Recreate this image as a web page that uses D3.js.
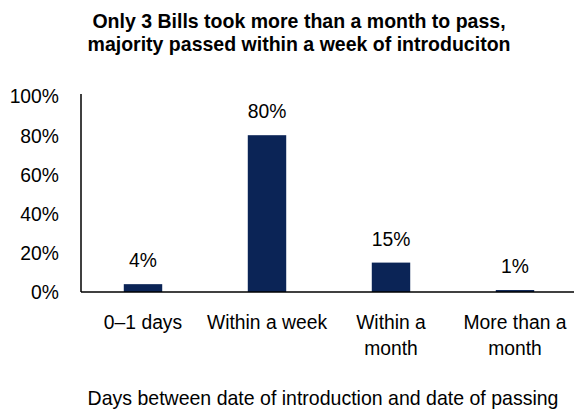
<!DOCTYPE html>
<html>
<head>
<meta charset="utf-8">
<script src="https://cdn.jsdelivr.net/npm/d3@7"></script>
<style>
  body { margin: 0; background: #fff; }
  text { font-family: "Liberation Sans Narrow", "Arial Narrow", "Liberation Sans", Arial, sans-serif; fill: #000; }
</style>
</head>
<body>
<div id="chart"></div>
<script>
// bill passing times
var categories = [["0\u20131 days"], ["Within a week"], ["Within a", "month"], ["More than a", "month"]];
var shares = [4, 80, 15, 1];
var yTicks = [0, 20, 40, 60, 80, 100];

var width = 574, height = 410;
var sx = 0.92; // squeeze text, no narrow font here

var svg = d3.select("#chart")
	.append("svg")
		.attr("width", width)
		.attr("height", height);

var x = d3.scaleBand()
	.domain(d3.range(categories.length))
	.range([81, 577])
	.paddingInner(0.69)
	.paddingOuter(0.345);

var y = d3.scaleLinear()
	.domain([0, 100])
	.range([292, 96]);

function place(sel, px, py, s) {
	return sel.attr("transform", "translate(" + px + "," + py + ") scale(" + (s || sx) + ",1)");
}

// title
var title = place(svg.append("text"), 299, 28, 0.93)
	.attr("text-anchor", "middle")
	.style("font-weight", "bold")
	.style("font-size", "21px");
title.append("tspan").attr("x", 0).text("Only 3 Bills took more than a month to pass,");
title.append("tspan").attr("x", 0).attr("dy", 23).text("majority passed within a week of introduciton");

// y axis labels
svg.selectAll(".ytick")
	.data(yTicks)
	.enter().append("text")
		.attr("class", "ytick")
		.attr("transform", function(d) { return "translate(59," + y(d) + ") scale(" + sx + ",1)"; })
		.attr("dy", "0.35em")
		.attr("text-anchor", "end")
		.style("font-size", "21px")
		.text(function(d) { return d + "%"; });

// bars
svg.selectAll(".bar")
	.data(shares)
	.enter().append("rect")
		.attr("class", "bar")
		.attr("x", function(d, i) { return x(i); })
		.attr("y", function(d) { return y(d); })
		.attr("width", x.bandwidth())
		.attr("height", function(d) { return y(0) - y(d); })
		.attr("fill", "#0b2456");

svg.selectAll(".val")
	.data(shares)
	.enter().append("text")
		.attr("class", "val")
		.attr("transform", function(d, i) {
			return "translate(" + (x(i) + x.bandwidth() / 2) + "," + (y(d) - 17) + ") scale(" + sx + ",1)";
		})
		.attr("text-anchor", "middle")
		.style("font-size", "21px")
		.text(function(d) { return d + "%"; });

// axes lines
svg.append("line")
	.attr("x1", 81).attr("x2", 81)
	.attr("y1", y(100) - 2).attr("y2", y(0))
	.attr("stroke", "#000").attr("stroke-width", 1.5);
svg.append("line")
	.attr("x1", 81).attr("x2", width)
	.attr("y1", y(0)).attr("y2", y(0))
	.attr("stroke", "#000").attr("stroke-width", 1.5);

// category labels
svg.selectAll(".cat")
	.data(categories)
	.enter().append("text")
		.attr("class", "cat")
		.attr("transform", function(d, i) {
			return "translate(" + (x(i) + x.bandwidth() / 2) + ",329) scale(" + sx + ",1)";
		})
		.attr("text-anchor", "middle")
		.style("font-size", "21px")
		.each(function(d) {
			var t = d3.select(this);
			d.forEach(function(line, j) {
				t.append("tspan")
					.attr("x", 0)
					.attr("y", j * 26)
					.text(line);
			});
		});

place(svg.append("text"), 323, 405, 0.93)
	.attr("text-anchor", "middle")
	.style("font-size", "21px")
	.text("Days between date of introduction and date of passing");
</script>
</body>
</html>
